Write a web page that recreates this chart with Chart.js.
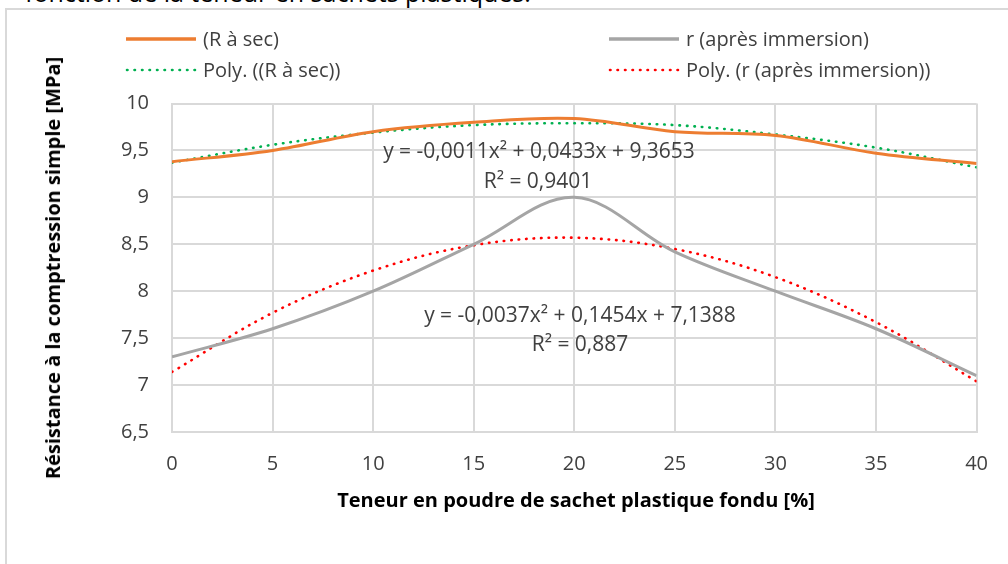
<!DOCTYPE html>
<html>
<head>
<meta charset="utf-8">
<script src="https://cdn.jsdelivr.net/npm/chart.js@4.4.1/dist/chart.umd.min.js"></script>
<style>
  body { margin: 0; width: 1008px; height: 564px; overflow: hidden; background: #fff; font-family: "Open Sans", sans-serif; position: relative; }
  #cadre { position: absolute; left: 5px; top: 8px; width: 1100px; height: 700px; border: 2px solid #d9d9d9; }
  #wrap { position: absolute; left: 0; top: 0; width: 1008px; height: 564px; }
  .txt { position: absolute; white-space: nowrap; color: #404040; font-size: 21px; }
  .eq { transform: translate(-50%, -50%); line-height: 1; }
  .leg { position: absolute; white-space: nowrap; font-size: 20px; color: #404040; line-height: 1; transform: translateY(-50%); }
  .leg svg { position: absolute; overflow: visible; }
</style>
</head>
<body>
<div class="txt" style="left:25px; top:-25px; color:#000; font-size:25px;">fonction de la teneur en sachets plastiques.</div>
<div id="cadre"></div>
<div id="wrap"><canvas id="graphique" width="1008" height="564"></canvas></div>

<div id="legende"></div>

<div class="txt eq" style="left:539px; top:150px;">y = -0,0011x² + 0,0433x + 9,3653</div>
<div class="txt eq" style="left:538px; top:180px;">R² = 0,9401</div>
<div class="txt eq" style="left:580px; top:314px;">y = -0,0037x² + 0,1454x + 7,1388</div>
<div class="txt eq" style="left:580px; top:343px;">R² = 0,887</div>

<div class="txt eq" style="left:576px; top:500px; font-weight:bold; color:#000; font-size:20px;">Teneur en poudre de sachet plastique fondu [%]</div>
<div class="txt eq" style="left:53px; top:268px; font-weight:bold; color:#000; font-size:20px; transform: translate(-50%, -50%) rotate(-90deg);">Résistance à la comptression simple [MPa]</div>

<script>
const teneurs = [0, 5, 10, 15, 20, 25, 30, 35, 40];
const rSec = [9.38, 9.5, 9.7, 9.8, 9.84, 9.7, 9.66, 9.47, 9.36];
const rImmersion = [7.3, 7.6, 8.0, 8.5, 9.0, 8.42, 8.0, 7.6, 7.1];
const polySec = [9.37, 9.56, 9.69, 9.77, 9.79, 9.77, 9.67, 9.53, 9.32];
const polyImmersion = [7.14, 7.77, 8.22, 8.49, 8.57, 8.45, 8.15, 7.67, 7.04];
const yTicks = [6.5, 7, 7.5, 8, 8.5, 9, 9.5, 10];

const series = [
  { nom: "(R à sec)", valeurs: rSec, couleur: "#ED7D31", pointille: false },
  { nom: "r (après immersion)", valeurs: rImmersion, couleur: "#A5A5A5", pointille: false },
  { nom: "Poly. ((R à sec))", valeurs: polySec, couleur: "#00B050", pointille: true },
  { nom: "Poly. (r (après immersion))", valeurs: polyImmersion, couleur: "#FF0000", pointille: true },
];

// legende en html (2 colonnes)
const posLegende = [
  { x: 126, y: 39 },
  { x: 609, y: 39 },
  { x: 126, y: 70 },
  { x: 609, y: 70 },
];
const legendeEl = document.getElementById("legende");
series.forEach((s, i) => {
  const p = posLegende[i];
  const div = document.createElement("div");
  div.className = "leg";
  div.style.left = p.x + "px";
  div.style.top = p.y + "px";
  const trait = s.pointille
    ? `<line x1="1" y1="0" x2="69" y2="0" stroke="${s.couleur}" stroke-width="2.6" stroke-linecap="round" stroke-dasharray="0.5 7"/>`
    : `<line x1="0" y1="0" x2="70" y2="0" stroke="${s.couleur}" stroke-width="3.5"/>`;
  div.innerHTML = `<svg width="70" height="4" style="left:0; top:50%;">${trait}</svg><span style="margin-left:77px">${s.nom}</span>`;
  legendeEl.appendChild(div);
});

const datasets = series.map((s) => ({
  label: s.nom,
  data: teneurs.map((t, i) => ({ x: t, y: s.valeurs[i] })),
  borderColor: s.couleur,
  borderWidth: s.pointille ? 2.6 : 3,
  borderDash: s.pointille ? [0.5, 7] : [],
  borderCapStyle: s.pointille ? "round" : "butt",
  pointRadius: 0,
  tension: 0.35,
  fill: false,
}));

new Chart(document.getElementById("graphique"), {
  type: "line",
  data: { datasets },
  options: {
    responsive: false,
    animation: false,
    layout: { padding: { left: 100, right: 31, top: 103.5, bottom: 72 } },
    plugins: { legend: { display: false }, tooltip: { enabled: false } },
    scales: {
      x: {
        type: "linear",
        min: 0,
        max: 40,
        afterFit: (s) => { s.height = 60; },
        afterBuildTicks: (s) => { s.ticks = teneurs.map((v) => ({ value: v })); },
        ticks: { color: "#404040", font: { family: "Open Sans", size: 20 }, padding: 20 },
        grid: { color: "#d9d9d9", lineWidth: 2, drawTicks: false },
        border: { color: "#d9d9d9", width: 2 },
      },
      y: {
        min: 6.5,
        max: 10,
        afterFit: (s) => { s.width = 72; },
        afterBuildTicks: (s) => { s.ticks = yTicks.map((v) => ({ value: v })); },
        ticks: {
          color: "#404040",
          font: { family: "Open Sans", size: 20 },
          padding: 23,
          callback: (v) => String(v).replace(".", ","),
        },
        grid: { color: "#d9d9d9", lineWidth: 2, drawTicks: false },
        border: { color: "#d9d9d9", width: 2 },
      },
    },
  },
});
</script>
</body>
</html>
